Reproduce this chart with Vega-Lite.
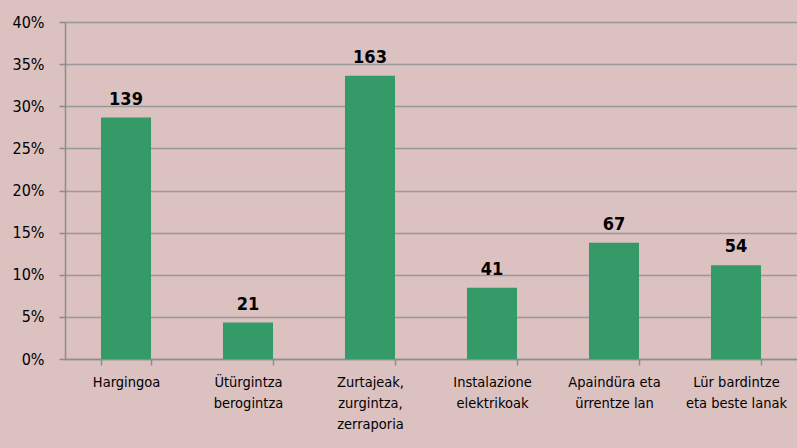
{
  "$schema": "https://vega.github.io/schema/vega-lite/v6.json",
  "width": 732,
  "height": 337,
  "autosize": "none",
  "padding": {"left": 65, "top": 22, "right": 0, "bottom": 89},
  "background": "#dcc1c1",
  "config": {
    "view": {"stroke": null},
    "font": "Liberation Sans Narrow, DejaVu Sans Condensed, sans-serif"
  },
  "data": {
    "values": [
      {"cat": "Hargingoa", "pct": 0.2866, "n": 139},
      {"cat": "Ütürgintza|berogintza", "pct": 0.0433, "n": 21},
      {"cat": "Zurtajeak,|zurgintza,|zerraporia", "pct": 0.3361, "n": 163},
      {"cat": "Instalazione|elektrikoak", "pct": 0.0845, "n": 41},
      {"cat": "Apaindüra eta|ürrentze lan", "pct": 0.1381, "n": 67},
      {"cat": "Lür bardintze|eta beste lanak", "pct": 0.1113, "n": 54}
    ]
  },
  "encoding": {
    "x": {
      "field": "cat",
      "type": "nominal",
      "sort": null,
      "scale": {"paddingInner": 0.59, "paddingOuter": 0.295},
      "axis": {
        "title": null,
        "labelAngle": 0,
        "labelExpr": "split(datum.label, '|')",
        "labelFontSize": 14.5,
        "labelColor": "#000000",
        "labelLineHeight": 21,
        "labelPadding": 10,
        "labelBaseline": "top",
        "tickBand": "extent",
        "tickSize": 6,
        "tickColor": "#8c8c8c",
        "tickWidth": 1.5,
        "domainColor": "#8c8c8c",
        "domainWidth": 1.5,
        "labelLimit": 200
      }
    },
    "y": {
      "field": "pct",
      "type": "quantitative",
      "scale": {"domain": [0, 0.4], "nice": false},
      "axis": {
        "title": null,
        "format": ".0%",
        "values": [0, 0.05, 0.1, 0.15, 0.2, 0.25, 0.3, 0.35, 0.4],
        "labelFontSize": 16,
        "labelColor": "#000000",
        "labelPadding": 15,
        "tickSize": 6,
        "tickColor": "#8c8c8c",
        "tickWidth": 1.5,
        "domainColor": "#8c8c8c",
        "domainWidth": 1.5,
        "gridColor": "#999999",
        "gridWidth": 1.5
      }
    }
  },
  "layer": [
    {"mark": {"type": "bar", "color": "#349a68"}},
    {
      "mark": {"type": "text", "baseline": "bottom", "dy": -9, "fontSize": 18, "fontWeight": "bold", "color": "#000000"},
      "encoding": {"text": {"field": "n", "type": "quantitative"}}
    }
  ]
}
